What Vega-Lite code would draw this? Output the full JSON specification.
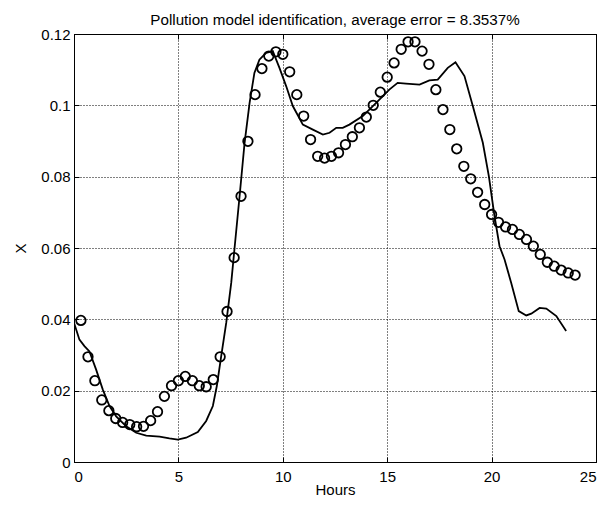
{
  "$schema": "https://vega.github.io/schema/vega-lite/v6.json",
  "autosize": {"type": "none"},
  "width": 522,
  "height": 428,
  "padding": {"left": 74, "top": 34, "right": 18, "bottom": 44},
  "background": "white",
  "config": {
    "font": "Liberation Sans",
    "view": {"stroke": "black", "strokeWidth": 1},
    "axis": {
      "labelFont": "Liberation Sans",
      "labelFontSize": 15,
      "labelColor": "black",
      "titleFont": "Liberation Sans",
      "titleFontSize": 15,
      "titleFontWeight": "normal",
      "titleColor": "black",
      "domainColor": "black",
      "domainWidth": 1,
      "tickColor": "black",
      "tickSize": -5,
      "tickWidth": 1,
      "gridColor": "black",
      "gridDash": [1, 2],
      "gridWidth": 1,
      "gridOpacity": 1
    }
  },
  "title": {
    "text": "Pollution model identification, average error = 8.3537%",
    "font": "Liberation Sans",
    "fontSize": 15.2,
    "fontWeight": "normal",
    "color": "black",
    "anchor": "middle",
    "frame": "group",
    "baseline": "alphabetic",
    "offset": 13,
    "dy": 26
  },
  "datasets": {
    "measured": [
      {"t": 0.33, "x": 0.0397}, {"t": 0.67, "x": 0.0295}, {"t": 1.0, "x": 0.0228}, {"t": 1.33, "x": 0.0174},
      {"t": 1.67, "x": 0.0144}, {"t": 2.0, "x": 0.0122}, {"t": 2.33, "x": 0.0111}, {"t": 2.67, "x": 0.0105},
      {"t": 3.0, "x": 0.0099}, {"t": 3.33, "x": 0.0100}, {"t": 3.67, "x": 0.0116}, {"t": 4.0, "x": 0.0141},
      {"t": 4.33, "x": 0.0184}, {"t": 4.67, "x": 0.0214}, {"t": 5.0, "x": 0.0228}, {"t": 5.33, "x": 0.0240},
      {"t": 5.67, "x": 0.0228}, {"t": 6.0, "x": 0.0214}, {"t": 6.33, "x": 0.0211}, {"t": 6.67, "x": 0.0231},
      {"t": 7.0, "x": 0.0295}, {"t": 7.33, "x": 0.0422}, {"t": 7.67, "x": 0.0573}, {"t": 8.0, "x": 0.0745},
      {"t": 8.33, "x": 0.0899}, {"t": 8.67, "x": 0.1030}, {"t": 9.0, "x": 0.1103}, {"t": 9.33, "x": 0.1138},
      {"t": 9.67, "x": 0.1150}, {"t": 10.0, "x": 0.1143}, {"t": 10.33, "x": 0.1094}, {"t": 10.67, "x": 0.1030},
      {"t": 11.0, "x": 0.0970}, {"t": 11.33, "x": 0.0904}, {"t": 11.67, "x": 0.0857}, {"t": 12.0, "x": 0.0852},
      {"t": 12.33, "x": 0.0857}, {"t": 12.67, "x": 0.0867}, {"t": 13.0, "x": 0.0890}, {"t": 13.33, "x": 0.0912},
      {"t": 13.67, "x": 0.0937}, {"t": 14.0, "x": 0.0967}, {"t": 14.33, "x": 0.1000}, {"t": 14.67, "x": 0.1037},
      {"t": 15.0, "x": 0.1079}, {"t": 15.33, "x": 0.1119}, {"t": 15.67, "x": 0.1157}, {"t": 16.0, "x": 0.1178},
      {"t": 16.33, "x": 0.1178}, {"t": 16.67, "x": 0.1152}, {"t": 17.0, "x": 0.1115}, {"t": 17.33, "x": 0.1044},
      {"t": 17.67, "x": 0.0988}, {"t": 18.0, "x": 0.0932}, {"t": 18.33, "x": 0.0878}, {"t": 18.67, "x": 0.0829},
      {"t": 19.0, "x": 0.0794}, {"t": 19.33, "x": 0.0756}, {"t": 19.67, "x": 0.0722}, {"t": 20.0, "x": 0.0694},
      {"t": 20.33, "x": 0.0672}, {"t": 20.67, "x": 0.0659}, {"t": 21.0, "x": 0.0652}, {"t": 21.33, "x": 0.0638},
      {"t": 21.67, "x": 0.0624}, {"t": 22.0, "x": 0.0605}, {"t": 22.33, "x": 0.0582}, {"t": 22.67, "x": 0.0560},
      {"t": 23.0, "x": 0.0549}, {"t": 23.33, "x": 0.0538}, {"t": 23.67, "x": 0.0530}, {"t": 24.0, "x": 0.0524}
    ],
    "model": [
      {"t": 0.0, "x": 0.0390}, {"t": 0.26, "x": 0.0343}, {"t": 0.5, "x": 0.0325}, {"t": 0.74, "x": 0.0310},
      {"t": 1.06, "x": 0.0259}, {"t": 1.38, "x": 0.0203}, {"t": 1.7, "x": 0.0157}, {"t": 2.02, "x": 0.0128},
      {"t": 2.5, "x": 0.0100}, {"t": 2.98, "x": 0.0082}, {"t": 3.46, "x": 0.0074}, {"t": 4.1, "x": 0.0071},
      {"t": 4.57, "x": 0.0066}, {"t": 4.97, "x": 0.0063}, {"t": 5.37, "x": 0.0068}, {"t": 5.93, "x": 0.0084},
      {"t": 6.33, "x": 0.0115}, {"t": 6.65, "x": 0.0157}, {"t": 6.84, "x": 0.0213}, {"t": 7.05, "x": 0.0297},
      {"t": 7.29, "x": 0.0390}, {"t": 7.53, "x": 0.0502}, {"t": 7.69, "x": 0.0600}, {"t": 7.93, "x": 0.0745},
      {"t": 8.17, "x": 0.0895}, {"t": 8.41, "x": 0.1007}, {"t": 8.64, "x": 0.1091}, {"t": 8.88, "x": 0.1128},
      {"t": 9.2, "x": 0.1147}, {"t": 9.52, "x": 0.1152}, {"t": 9.84, "x": 0.1105}, {"t": 10.16, "x": 0.1054},
      {"t": 10.48, "x": 0.0998}, {"t": 10.96, "x": 0.0946}, {"t": 11.44, "x": 0.0932}, {"t": 11.92, "x": 0.0918},
      {"t": 12.24, "x": 0.0923}, {"t": 12.56, "x": 0.0937}, {"t": 12.87, "x": 0.0937}, {"t": 13.19, "x": 0.0946},
      {"t": 13.83, "x": 0.0970}, {"t": 14.47, "x": 0.1007}, {"t": 15.1, "x": 0.1044}, {"t": 15.5, "x": 0.1063},
      {"t": 15.9, "x": 0.1061}, {"t": 16.55, "x": 0.1058}, {"t": 17.02, "x": 0.1070}, {"t": 17.42, "x": 0.1072},
      {"t": 17.9, "x": 0.1105}, {"t": 18.27, "x": 0.1121}, {"t": 18.7, "x": 0.1082}, {"t": 19.1, "x": 0.0998},
      {"t": 19.58, "x": 0.0895}, {"t": 19.87, "x": 0.0801}, {"t": 20.14, "x": 0.0689}, {"t": 20.38, "x": 0.0605},
      {"t": 20.62, "x": 0.0568}, {"t": 20.94, "x": 0.0502}, {"t": 21.3, "x": 0.0423}, {"t": 21.66, "x": 0.0411},
      {"t": 21.9, "x": 0.0416}, {"t": 22.3, "x": 0.0432}, {"t": 22.62, "x": 0.0430}, {"t": 23.1, "x": 0.0409},
      {"t": 23.57, "x": 0.0367}
    ]
  },
  "layer": [
    {
      "data": {"name": "model"},
      "mark": {"type": "line", "color": "black", "strokeWidth": 1.8, "clip": true},
      "encoding": {
        "x": {
          "field": "t", "type": "quantitative",
          "scale": {"domain": [0, 25], "nice": false},
          "axis": {"title": "Hours", "values": [0, 5, 10, 15, 20, 25], "labelPadding": 12, "titlePadding": -2, "grid": true, "format": "d"}
        },
        "y": {
          "field": "x", "type": "quantitative",
          "scale": {"domain": [0, 0.12], "nice": false, "zero": false},
          "axis": {"title": "X", "values": [0, 0.02, 0.04, 0.06, 0.08, 0.1, 0.12], "labelExpr": "format(datum.value, '.2~f')", "labelPadding": 9, "titlePadding": 12, "grid": true}
        }
      }
    },
    {
      "data": {"name": "measured"},
      "mark": {"type": "point", "shape": "circle", "filled": false, "color": "black", "strokeWidth": 1.8, "size": 90, "opacity": 1},
      "encoding": {
        "x": {
          "field": "t", "type": "quantitative",
          "scale": {"domain": [0, 25], "nice": false},
          "axis": {"orient": "top", "title": null, "labels": false, "values": [0, 5, 10, 15, 20, 25], "grid": false}
        },
        "y": {
          "field": "x", "type": "quantitative",
          "scale": {"domain": [0, 0.12], "nice": false, "zero": false},
          "axis": {"orient": "right", "title": null, "labels": false, "values": [0, 0.02, 0.04, 0.06, 0.08, 0.1, 0.12], "grid": false}
        }
      }
    }
  ],
  "resolve": {"axis": {"x": "independent", "y": "independent"}}
}
